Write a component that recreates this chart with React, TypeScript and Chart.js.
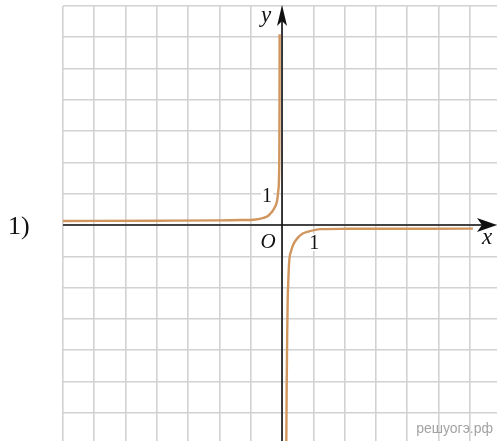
import React, { useEffect, useRef } from "react";
import { Chart, registerables } from "chart.js";

Chart.register(...registerables);

const upperLeftX = [-7, -4, -2, -1.33, -0.91, -0.59, -0.45, -0.37, -0.3, -0.24, -0.16, -0.12, -0.1, -0.086, -0.08, -0.077];
const upperLeftY = [0.13, 0.14, 0.15, 0.16, 0.17, 0.23, 0.29, 0.37, 0.45, 0.55, 0.77, 1.09, 1.4, 2.36, 4, 6.1];

const lowerRightX = [0.137, 0.15, 0.165, 0.18, 0.2, 0.23, 0.29, 0.36, 0.5, 0.65, 0.84, 1.22, 2, 6.1];
const lowerRightY = [-6.93, -5, -3.5, -2.43, -1.79, -1.15, -0.83, -0.62, -0.41, -0.28, -0.21, -0.13, -0.12, -0.115];

const xMin = -7;
const xMax = 6.87;
const yMin = -6.9;
const yMax = 7;

const curveColor = "#d0965e";
const gridColor = "#d2d2d2";
const axisColor = "#111111";

const toPoints = (xs: number[], ys: number[]) => xs.map((x, i) => ({ x, y: ys[i] }));

const axesPlugin = {
  id: "axesPlugin",
  beforeDatasetsDraw(chart: any) {
    const { ctx, chartArea, scales } = chart;
    const x0 = scales.x.getPixelForValue(0);
    const y0 = scales.y.getPixelForValue(0);
    ctx.save();
    ctx.strokeStyle = axisColor;
    ctx.fillStyle = axisColor;
    ctx.lineWidth = 1.6;
    // x axis
    ctx.beginPath();
    ctx.moveTo(chartArea.left, y0);
    ctx.lineTo(chartArea.right - 8, y0);
    ctx.stroke();
    const tipX = chartArea.right;
    ctx.beginPath();
    ctx.moveTo(tipX, y0);
    ctx.lineTo(tipX - 20, y0 - 7);
    ctx.lineTo(tipX - 15, y0);
    ctx.lineTo(tipX - 20, y0 + 7);
    ctx.closePath();
    ctx.fill();
    // y axis
    ctx.beginPath();
    ctx.moveTo(x0, chartArea.bottom);
    ctx.lineTo(x0, chartArea.top + 8);
    ctx.stroke();
    const tipY = chartArea.top - 1;
    ctx.beginPath();
    ctx.moveTo(x0, tipY);
    ctx.lineTo(x0 - 5, tipY + 21);
    ctx.lineTo(x0, tipY + 16);
    ctx.lineTo(x0 + 5, tipY + 21);
    ctx.closePath();
    ctx.fill();
    ctx.restore();
  },
  afterDatasetsDraw(chart: any) {
    const { ctx, scales } = chart;
    const x0 = scales.x.getPixelForValue(0);
    const y0 = scales.y.getPixelForValue(0);
    const x1 = scales.x.getPixelForValue(1);
    const y1 = scales.y.getPixelForValue(1);
    const label = (text: string, cx: number, base: number, font: string, bg: boolean) => {
      ctx.save();
      ctx.font = font;
      ctx.textAlign = "center";
      ctx.textBaseline = "alphabetic";
      if (bg) {
        const w = ctx.measureText(text).width;
        ctx.fillStyle = "#ffffff";
        ctx.fillRect(cx - w / 2 - 1, base - 15, w + 2, 17);
      }
      ctx.fillStyle = "#111111";
      ctx.fillText(text, cx, base);
      ctx.restore();
    };
    label("1", x0 - 15, y1 + 8, "20px 'Liberation Serif'", true);
    label("1", x1 + 1, y0 + 24, "20px 'Liberation Serif'", true);
    label("O", x0 - 14, y0 + 23, "italic 21px 'Liberation Serif'", true);
    label("y", x0 - 16, 22, "italic 23px 'Liberation Serif'", false);
    label("x", x0 + 205, y0 + 19, "italic 23px 'Liberation Serif'", false);
    ctx.save();
    ctx.font = "26px 'Liberation Serif'";
    ctx.fillStyle = "#111111";
    ctx.textAlign = "left";
    ctx.fillText("1)", 8, y0 + 9);
    ctx.font = "14px 'Liberation Sans'";
    ctx.fillStyle = "#a3a3a3";
    ctx.textAlign = "right";
    ctx.fillText("решуогэ.рф", 493, 433);
    ctx.restore();
  },
};

export default function App() {
  const ref = useRef<HTMLCanvasElement | null>(null);
  useEffect(() => {
    if (!ref.current) return;
    const integerTicks = (scale: any) => {
      const t: any[] = [];
      for (let v = Math.ceil(scale.min); v <= Math.floor(scale.max); v++) t.push({ value: v });
      scale.ticks = t;
    };
    const chart = new Chart(ref.current, {
      type: "line",
      data: {
        datasets: [
          {
            data: toPoints(upperLeftX, upperLeftY),
            borderColor: curveColor,
            borderWidth: 2.4,
            pointRadius: 0,
            cubicInterpolationMode: "monotone",
            fill: false,
          },
          {
            data: toPoints(lowerRightX, lowerRightY),
            borderColor: curveColor,
            borderWidth: 2.4,
            pointRadius: 0,
            cubicInterpolationMode: "monotone",
            fill: false,
          },
        ],
      },
      options: {
        animation: false,
        responsive: false,
        devicePixelRatio: 1,
        layout: { padding: { left: 63, top: 6, right: 0, bottom: 0 } },
        plugins: { legend: { display: false }, tooltip: { enabled: false } },
        scales: {
          x: {
            type: "linear",
            min: xMin,
            max: xMax,
            afterBuildTicks: integerTicks,
            ticks: { display: false },
            grid: { color: gridColor, lineWidth: 1.6, drawTicks: false },
            border: { display: false },
          },
          y: {
            type: "linear",
            min: yMin,
            max: yMax,
            afterBuildTicks: integerTicks,
            ticks: { display: false },
            grid: { color: gridColor, lineWidth: 1.6, drawTicks: false },
            border: { display: false },
          },
        },
      },
      plugins: [axesPlugin],
    } as any);
    return () => chart.destroy();
  }, []);
  return (
    <div style={{ position: "fixed", left: 0, top: 0, width: 497, height: 441, background: "#fff" }}>
      <canvas ref={ref} width={497} height={441} style={{ display: "block" }} />
    </div>
  );
}
